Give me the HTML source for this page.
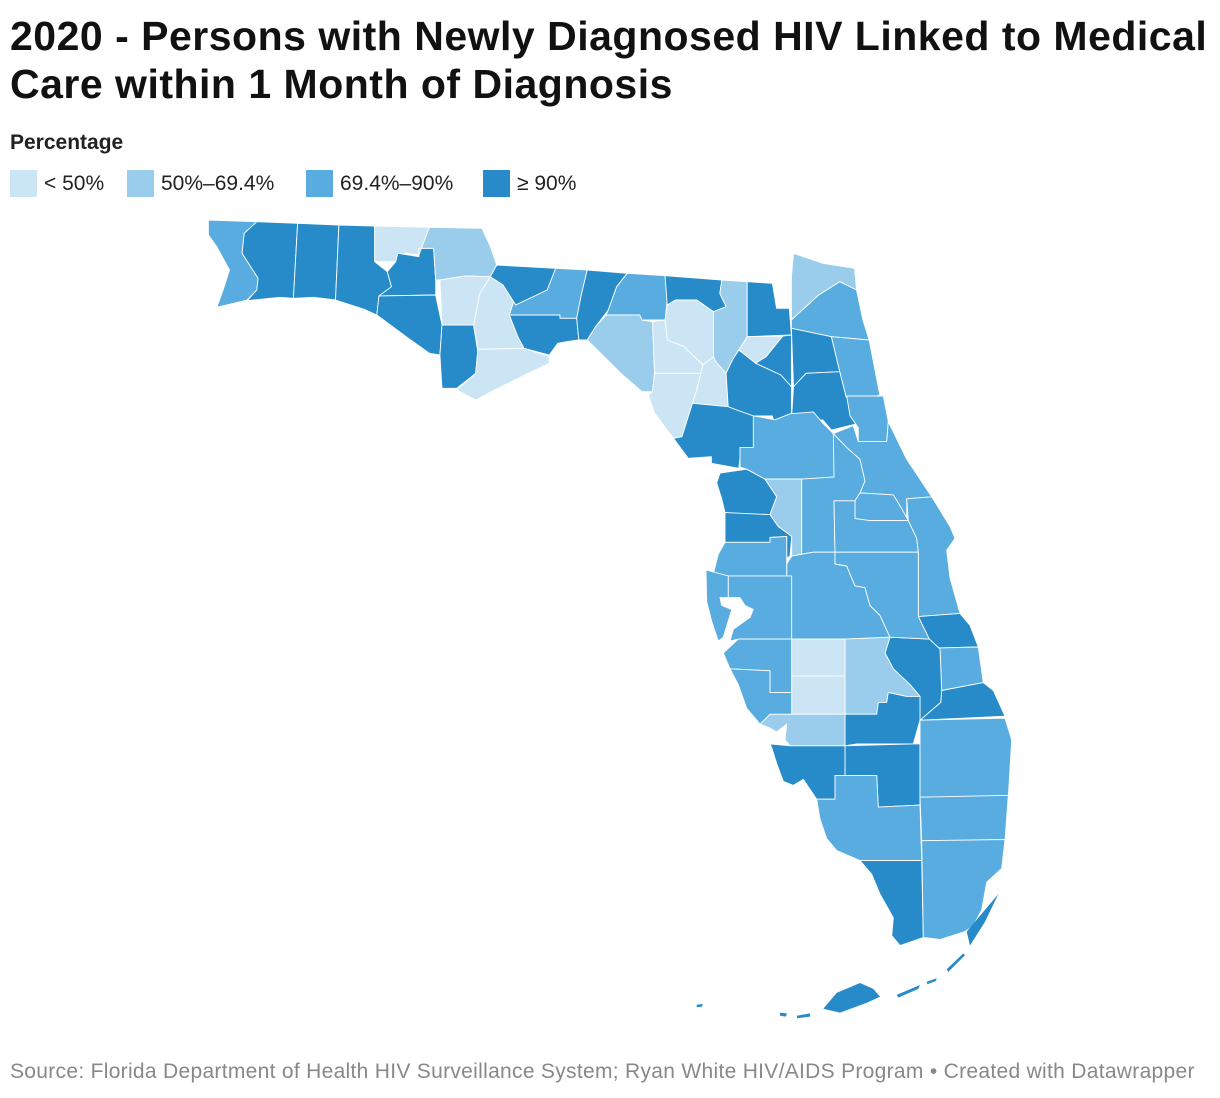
<!DOCTYPE html>
<html><head><meta charset="utf-8">
<style>
body{margin:0;background:#fff;width:1220px;height:1098px;overflow:hidden;font-family:"Liberation Sans",Arial,sans-serif;}
h1{position:absolute;left:10px;top:12px;margin:0;font-size:41px;line-height:48px;font-weight:bold;color:#111;letter-spacing:0.5px;width:1215px}
.lt{position:absolute;left:10px;top:131px;font-size:21px;font-weight:bold;color:#222}
.lg{position:absolute;top:170px;display:flex;align-items:center;font-size:21px;color:#222}
.sw{width:27px;height:27px;margin-right:7px}
.src{position:absolute;left:10px;top:1060px;font-size:21px;color:#888;letter-spacing:0.3px;white-space:nowrap}
svg{position:absolute;left:0;top:0}
</style></head><body>
<h1>2020 - Persons with Newly Diagnosed HIV Linked to Medical Care within 1 Month of Diagnosis</h1>
<div class="lt">Percentage</div>
<div class="lg" style="left:10px"><div class="sw" style="background:#cce5f4"></div>&lt; 50%</div>
<div class="lg" style="left:127px"><div class="sw" style="background:#9acdec"></div>50%–69.4%</div>
<div class="lg" style="left:306px"><div class="sw" style="background:#58acdf"></div>69.4%–90%</div>
<div class="lg" style="left:483px"><div class="sw" style="background:#268bc8"></div>≥ 90%</div>
<svg id="map" width="1220" height="1098"></svg>
<div class="src">Source: Florida Department of Health HIV Surveillance System; Ryan White HIV/AIDS Program • Created with Datawrapper</div>
<script>
const counties=["Escambia","Santa Rosa","Okaloosa","Walton","Holmes","Washington","Bay","Jackson","Calhoun","Gulf","Liberty","Franklin","Gadsden","Leon","Wakulla","Jefferson","Madison","Taylor","Hamilton","Suwannee","Lafayette","Dixie","Columbia","Gilchrist","Baker","Union","Bradford","Alachua","Levy","Nassau","Duval","Clay","Putnam","St. Johns","Flagler","Citrus","Marion","Hernando","Sumter","Lake","Volusia","Seminole","Orange","Brevard","Indian River","St. Lucie","Martin","Okeechobee","Polk","Osceola","Pasco","Pinellas","Hillsborough","Manatee","Hardee","DeSoto","Highlands","Glades","Hendry","Charlotte","Sarasota","Lee","Collier","Monroe","Palm Beach","Broward","Miami-Dade"];
const values=[80,92,95,93,40,95,92,60,45,91,40,35,91,85,92,92,82,62,93,42,40,38,65,44,95,45,91,92,93,60,84,92,92,82,80,93,83,94,62,82,80,80,84,83,91,85,92,92,84,82,82,83,85,82,40,42,60,92,93,60,84,92,84,93,83,84,84];
const thresholds=[50,69.4,90];
const colors=["#cce5f4","#9acdec","#58acdf","#268bc8"];
function colorFor(v){let i=0;while(i<thresholds.length&&v>=thresholds[i])i++;return colors[i];}
const Z1=p=>[200+p[0]*0.4209,210+p[1]/3];
const Z2=p=>[680+p[0]/3,400+p[1]/2.53];
const shapes={
"Escambia":[Z1,[[20,30],[135,35],[105,70],[100,130],[138,205],[135,240],[112,270],[40,292],[55,240],[70,180],[40,110],[20,75]]],
"Santa Rosa":[Z1,[[135,35],[232,40],[222,265],[190,262],[112,272],[135,240],[138,205],[100,130],[105,70]]],
"Okaloosa":[Z1,[[232,40],[330,45],[322,270],[270,262],[222,265]]],
"Walton":[Z1,[[330,45],[415,48],[415,155],[445,185],[455,230],[425,260],[420,315],[390,298],[322,270]]],
"Holmes":[Z1,[[415,48],[545,52],[520,135],[490,130],[470,140],[465,155],[415,155]]],
"Washington":[Z1,[[465,155],[470,130],[520,140],[520,115],[555,115],[560,210],[560,255],[425,258],[455,230],[445,185]]],
"Bay":[Z1,[[425,258],[560,255],[575,345],[570,435],[545,430],[490,380],[420,315]]],
"Jackson":[Z1,[[545,52],[670,55],[690,110],[705,165],[690,200],[630,198],[570,210],[560,210],[555,115],[520,115],[520,135]]],
"Calhoun":[Z1,[[570,210],[630,198],[690,200],[665,250],[650,345],[575,345]]],
"Gulf":[Z1,[[575,345],[650,345],[660,425],[655,490],[610,535],[575,535],[570,435]]],
"Liberty":[Z1,[[690,200],[720,225],[745,275],[735,315],[755,380],[770,415],[660,418],[650,345],[665,250]]],
"Franklin":[Z1,[[660,418],[770,415],[830,440],[830,460],[780,490],[700,540],[655,570],[610,540],[655,490]]],
"Gadsden":[Z1,[[705,165],[845,175],[825,240],[750,285],[745,275],[720,225],[690,200]]],
"Leon":[Z1,[[750,285],[825,240],[845,175],[920,180],[905,260],[895,325],[855,325],[855,315],[735,315],[745,275]]],
"Wakulla":[Z1,[[735,315],[855,315],[855,325],[895,325],[900,390],[870,395],[850,400],[830,435],[770,415],[755,380]]],
"Jefferson":[Z1,[[920,180],[1015,190],[990,230],[970,300],[940,350],[920,390],[900,390],[895,325],[905,260]]],
"Madison":[Z1,[[1015,190],[1105,197],[1110,270],[1105,330],[1050,330],[1045,315],[965,315],[970,300],[990,230]]],
"Taylor":[Z1,[[965,315],[1045,315],[1050,330],[1075,335],[1080,490],[1075,545],[1050,545],[1000,490],[920,390],[940,350]]],
"Hamilton":[Z1,[[1105,197],[1240,210],[1235,250],[1250,290],[1220,305],[1180,270],[1130,270],[1110,285]]],
"Suwannee":[Z1,[[1110,285],[1130,270],[1180,270],[1220,305],[1220,440],[1195,465],[1150,410],[1110,390],[1105,330]]],
"Lafayette":[Z1,[[1075,335],[1105,330],[1110,390],[1150,410],[1195,465],[1190,490],[1080,490]]],
"Dixie":[Z1,[[1080,490],[1190,490],[1180,540],[1170,580],[1145,680],[1125,685],[1080,610],[1065,555],[1075,545]]],
"Columbia":[Z1,[[1240,210],[1300,215],[1300,380],[1280,420],[1265,450],[1250,490],[1225,455],[1220,440],[1220,305],[1250,290],[1235,250]]],
"Gilchrist":[Z1,[[1195,465],[1220,440],[1225,455],[1250,490],[1255,590],[1170,580],[1180,540],[1190,490]]],
"Baker":[Z1,[[1300,215],[1360,220],[1370,295],[1400,295],[1405,375],[1300,380]]],
"Union":[Z1,[[1300,380],[1385,378],[1345,440],[1320,460],[1280,420]]],
"Bradford":[Z1,[[1385,378],[1405,375],[1405,530],[1380,495],[1320,460],[1345,440]]],
"Alachua":[Z1,[[1250,490],[1265,450],[1280,420],[1320,460],[1380,495],[1405,530],[1405,630],[1365,640],[1360,618],[1315,618],[1275,600],[1255,590]]],
"Levy":[Z1,[[1170,580],[1255,590],[1275,600],[1315,618],[1315,715],[1285,718],[1280,775],[1215,760],[1215,740],[1160,745],[1125,685],[1145,680]]],
"Nassau":[Z1,[[1410,130],[1480,160],[1555,175],[1560,240],[1520,215],[1470,255],[1405,330],[1405,200]]],
"Duval":[Z1,[[1405,330],[1470,255],[1520,215],[1560,240],[1575,330],[1590,390],[1500,380],[1405,355]]],
"Clay":[Z1,[[1405,355],[1500,380],[1520,485],[1440,490],[1410,530]]],
"Putnam":[Z1,[[1410,530],[1440,490],[1520,485],[1535,560],[1560,600],[1565,640],[1500,660],[1480,630],[1405,630]]],
"St. Johns":[Z1,[[1500,380],[1590,390],[1615,555],[1570,570],[1535,560],[1520,485]]],
"Flagler":[Z2,[[500,-10],[610,-10],[625,55],[620,105],[535,105],[535,70],[510,40]]],
"Citrus":[Z2,[[120,185],[200,175],[255,200],[290,245],[270,290],[215,290],[135,285],[125,250],[110,210]]],
"Marion":[Z2,[[220,40],[285,50],[330,35],[400,30],[430,60],[460,85],[465,120],[462,195],[365,200],[255,200],[200,175],[180,170],[180,120],[220,120]]],
"Hernando":[Z2,[[135,285],[270,290],[295,320],[335,345],[330,395],[320,400],[320,345],[270,348],[270,360],[135,360]]],
"Sumter":[Z2,[[255,200],[365,200],[365,390],[335,395],[335,345],[295,320],[270,290],[290,245]]],
"Lake":[Z2,[[365,200],[462,195],[460,85],[500,120],[540,150],[555,205],[540,235],[525,255],[462,255],[465,385],[400,385],[365,390]]],
"Volusia":[Z2,[[460,85],[520,65],[535,105],[620,105],[625,55],[680,150],[755,245],[680,250],[680,305],[665,275],[640,240],[540,235],[555,205],[540,150],[500,120]]],
"Seminole":[Z2,[[540,235],[640,240],[665,275],[685,305],[570,305],[525,300],[525,255]]],
"Orange":[Z2,[[462,255],[525,255],[525,300],[570,305],[685,305],[710,350],[715,385],[465,385]]],
"Brevard":[Z2,[[680,250],[755,245],[810,320],[825,350],[800,380],[810,450],[840,540],[715,548],[715,385],[710,350],[685,305]]],
"Indian River":[Z2,[[715,548],[840,540],[870,570],[895,625],[750,628],[748,605]]],
"St. Lucie":[Z2,[[748,605],[750,628],[895,625],[910,715],[785,735],[780,630]]],
"Martin":[Z2,[[785,735],[910,715],[940,735],[975,800],[720,810],[782,765]]],
"Okeechobee":[Z2,[[630,600],[748,605],[780,630],[785,735],[782,765],[720,810],[720,750],[690,720],[640,680],[615,640]]],
"Polk":[Z2,[[335,395],[400,385],[465,385],[465,415],[500,420],[525,470],[555,475],[570,520],[600,545],[630,600],[495,605],[335,605],[320,445],[320,415]]],
"Osceola":[Z2,[[465,385],[715,385],[715,548],[748,605],[630,600],[600,545],[570,520],[555,475],[525,470],[500,420],[465,415]]],
"Pasco":[Z2,[[135,360],[270,360],[270,348],[320,345],[320,415],[320,445],[145,445],[100,440],[115,390]]],
"Pinellas":[Z2,[[78,430],[145,445],[145,500],[120,500],[125,520],[155,530],[130,600],[115,610],[95,560],[80,510]]],
"Hillsborough":[Z2,[[145,445],[335,445],[335,605],[175,605],[150,610],[160,580],[210,550],[220,530],[195,520],[180,500],[145,500]]],
"Manatee":[Z2,[[130,640],[175,605],[335,605],[335,740],[270,740],[270,685],[150,680]]],
"Hardee":[Z2,[[335,605],[495,605],[495,698],[335,698]]],
"DeSoto":[Z2,[[335,698],[495,698],[495,795],[335,795]]],
"Highlands":[Z2,[[495,605],[630,600],[615,640],[640,680],[690,720],[720,750],[680,750],[625,740],[620,765],[595,765],[590,795],[495,795]]],
"Glades":[Z2,[[495,795],[590,795],[595,765],[620,765],[625,740],[680,750],[720,750],[720,810],[700,870],[530,870],[495,875]]],
"Hendry":[Z2,[[495,875],[700,870],[720,870],[720,1025],[595,1030],[590,950],[495,950]]],
"Charlotte":[Z2,[[270,795],[335,795],[495,795],[495,875],[330,875],[315,860],[320,820],[290,840],[270,830],[240,820]]],
"Sarasota":[Z2,[[150,680],[270,685],[270,740],[335,740],[335,795],[270,795],[240,820],[200,780],[175,720]]],
"Lee":[Z2,[[270,870],[330,875],[495,875],[495,950],[465,950],[465,1010],[410,1010],[370,960],[340,975],[310,965],[290,920],[275,880]]],
"Collier":[Z2,[[410,1010],[465,1010],[465,950],[590,950],[595,1030],[720,1025],[725,1165],[540,1165],[470,1140],[440,1110],[420,1060]]],
"Monroe":[Z2,[[540,1165],[725,1165],[730,1360],[660,1380],[635,1355],[640,1310],[600,1250],[575,1200]]],
"Palm Beach":[Z2,[[720,810],[975,805],[995,860],[985,1005],[720,1005]]],
"Broward":[Z2,[[720,1005],[985,1000],[975,1115],[725,1115]]],
"Miami-Dade":[Z2,[[725,1115],[975,1112],[965,1185],[920,1220],[905,1290],[880,1330],[855,1345],[780,1365],[730,1360]]]
};
const keys=[[[860,1345],[905,1300],[955,1250],[915,1320],[870,1380]],[[430,1540],[470,1500],[540,1475],[580,1490],[600,1510],[560,1525],[480,1550]],[[650,1505],[720,1480],[715,1490],[655,1512]],[[740,1472],[770,1463],[768,1470],[742,1478]],[[800,1440],[850,1400],[855,1405],[805,1447]],[[300,1550],[320,1552],[318,1560],[300,1558]],[[350,1558],[390,1552],[390,1560],[352,1564]],[[50,1530],[68,1528],[66,1535],[50,1536]]];
const svg=document.getElementById('map');
const NS='http://www.w3.org/2000/svg';
counties.forEach((c,i)=>{
  const s=shapes[c]; if(!s)return;
  const p=document.createElementNS(NS,'polygon');
  p.setAttribute('points',s[1].map(q=>s[0](q).map(n=>n.toFixed(1)).join(',')).join(' '));
  p.setAttribute('fill',colorFor(values[i]));
  p.setAttribute('stroke','#ffffff');
  p.setAttribute('stroke-width','0.9');
  p.setAttribute('stroke-linejoin','round');
  
  
  svg.appendChild(p);
});
const mi=counties.indexOf("Monroe");
keys.forEach(k=>{
  const p=document.createElementNS(NS,'polygon');
  p.setAttribute('points',k.map(q=>Z2(q).map(n=>n.toFixed(1)).join(',')).join(' '));
  p.setAttribute('fill',colorFor(values[mi]));
  
  
  svg.appendChild(p);
});
</script>
</body></html>
